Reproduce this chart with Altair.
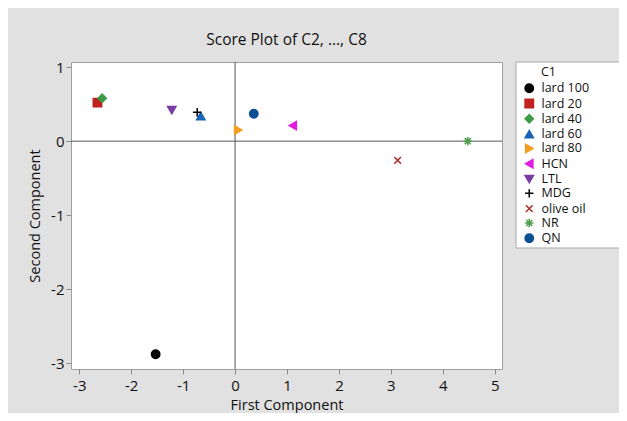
import altair as alt
import pandas as pd

groups = ["lard 100", "lard 20", "lard 40", "lard 60", "lard 80",
          "HCN", "LTL", "MDG", "olive oil", "NR", "QN"]
first_comp = [-1.53, -2.65, -2.56, -0.66, 0.06, 1.11, -1.22, -0.73, 3.13, 4.48, 0.36]
second_comp = [-2.88, 0.52, 0.58, 0.34, 0.15, 0.21, 0.42, 0.39, -0.26, 0.00, 0.37]
colors = ["#000000", "#C0201E", "#3E9B47", "#1A64B4", "#F39C1E",
          "#E11BE1", "#7A3BA4", "#000000", "#B02A2A", "#4E9C4E", "#0C4E92"]
plus_path = "M-1,0L1,0M0,-1L0,1"
x_path = "M-0.8,-0.8L0.8,0.8M-0.8,0.8L0.8,-0.8"
star_path = "M-1,0L1,0M0,-1L0,1M-0.72,-0.72L0.72,0.72M-0.72,0.72L0.72,-0.72"
shapes = ["circle", "square", "diamond", "triangle-up", "triangle-right",
          "triangle-left", "triangle-down", plus_path, x_path, star_path, "circle"]
x_ticks = [-3, -2, -1, 0, 1, 2, 3, 4, 5]
y_ticks = [-3, -2, -1, 0, 1]

df = pd.DataFrame({"C1": groups, "First": first_comp, "Second": second_comp})

FONT = "Open Sans"
xscale = alt.Scale(domain=[-3.16, 5.14], nice=False, zero=False)
yscale = alt.Scale(domain=[-3.08, 1.07], nice=False, zero=False)

leg = alt.Legend(title=None, orient="none", legendX=452, legendY=20,
                 symbolSize=70, symbolStrokeWidth=1.5, labelFontSize=12.5,
                 labelFont=FONT, labelColor="#111111", labelOffset=6,
                 rowPadding=0.3, padding=0)

lab = "'' + datum.value"
x_enc = alt.X("First:Q", scale=xscale,
              axis=alt.Axis(values=x_ticks, title="First Component", labelExpr=lab))
y_enc = alt.Y("Second:Q", scale=yscale,
              axis=alt.Axis(values=y_ticks, title="Second Component", labelExpr=lab))

box = alt.Chart(pd.DataFrame({"k": [0]})).mark_rect(
    fill="white", stroke="#A8A8A8", strokeWidth=1
).encode(x=alt.value(445), x2=alt.value(549), y=alt.value(0), y2=alt.value(186))

legend_title = alt.Chart(pd.DataFrame({"t": ["C1"]})).mark_text(
    align="left", baseline="middle", font=FONT, fontSize=12.5, color="#111111"
).encode(x=alt.value(470), y=alt.value(10), text="t:N")

vline = alt.Chart(pd.DataFrame({"v": [0]})).mark_rule(color="#555555", strokeWidth=1).encode(
    x=alt.X("v:Q", scale=xscale))
hline = alt.Chart(pd.DataFrame({"v": [0]})).mark_rule(color="#555555", strokeWidth=1).encode(
    y=alt.Y("v:Q", scale=yscale))

points = alt.Chart(df).mark_point(filled=True, size=70, strokeWidth=1.5, opacity=1).encode(
    x=x_enc,
    y=y_enc,
    fill=alt.Fill("C1:N", scale=alt.Scale(domain=groups, range=colors), legend=leg),
    stroke=alt.Stroke("C1:N", scale=alt.Scale(domain=groups, range=colors), legend=leg),
    shape=alt.Shape("C1:N", scale=alt.Scale(domain=groups, range=shapes), legend=leg),
)

chart = alt.layer(box, vline, hline, points, legend_title).properties(
    width=431, height=307,
    title=alt.TitleParams("Score Plot of C2, ..., C8", font=FONT, fontSize=15.5,
                          fontWeight="normal", color="#111111", anchor="middle", offset=12),
    autosize=alt.AutoSizeParams(type="none"),
    padding={"left": 63, "top": 54, "right": 117, "bottom": 44},
    background="#E1E1E1",
).configure_view(
    fill="white", stroke="#A0A0A0", strokeWidth=1
).configure_axis(
    grid=False, domain=False, tickColor="#8A8A8A", tickSize=5,
    labelFont=FONT, labelFontSize=15, labelColor="#111111",
    titleFont=FONT, titleFontSize=14.5, titleFontWeight="normal", titleColor="#111111",
).configure_axisX(labelPadding=4, titlePadding=5).configure_axisY(labelPadding=2, titlePadding=8)

chart.save("out.html", embed_options={"renderer": "svg", "actions": False})
